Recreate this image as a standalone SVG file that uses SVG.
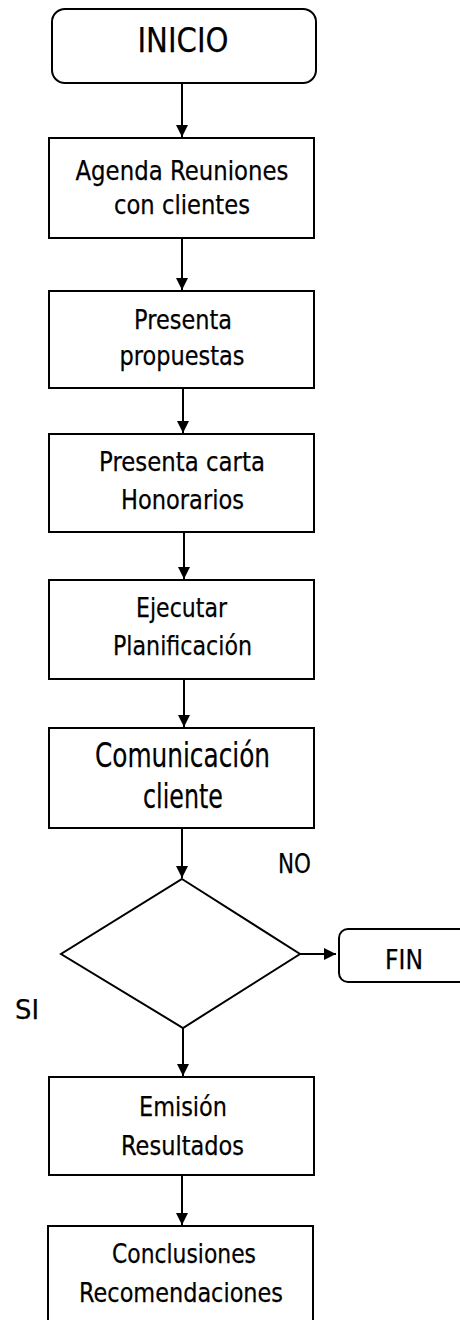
<svg xmlns="http://www.w3.org/2000/svg" width="460" height="1320" viewBox="0 0 460 1320">
<style>
.shape{fill:#fff;stroke:#000;stroke-width:2}
.line{fill:none;stroke:#000;stroke-width:2}
text{font-family:"DejaVu Sans","Liberation Sans",sans-serif;fill:#000;text-anchor:middle;stroke:#000;stroke-width:0.25}
.t{font-size:27px}
.big{font-size:33px}
</style>
<defs>
<marker id="arr" markerWidth="14" markerHeight="14" refX="12" refY="6" orient="auto" markerUnits="userSpaceOnUse">
<path d="M0,0 L12,6 L0,12 Z" fill="#000"/>
</marker>
</defs>
<rect width="460" height="1320" fill="#fff"/>
<g id="connectors">
<line class="line" x1="182" y1="84" x2="182" y2="137" marker-end="url(#arr)"/>
<line class="line" x1="182" y1="238" x2="182" y2="290" marker-end="url(#arr)"/>
<line class="line" x1="183" y1="388" x2="183" y2="433" marker-end="url(#arr)"/>
<line class="line" x1="184" y1="532" x2="184" y2="579" marker-end="url(#arr)"/>
<line class="line" x1="184" y1="679" x2="184" y2="727" marker-end="url(#arr)"/>
<line class="line" x1="182" y1="828" x2="182" y2="878" marker-end="url(#arr)"/>
<line class="line" x1="300" y1="954" x2="336" y2="954" marker-end="url(#arr)"/>
<line class="line" x1="183" y1="1028" x2="183" y2="1076" marker-end="url(#arr)"/>
<line class="line" x1="182" y1="1175" x2="182" y2="1225" marker-end="url(#arr)"/>
</g>
<g id="inicio">
<rect class="shape" x="52" y="9" width="264" height="74" rx="13"/>
<text class="big" x="183" y="52" textLength="91" lengthAdjust="spacingAndGlyphs">INICIO</text>
</g>
<g id="agenda">
<rect class="shape" x="49" y="138" width="265" height="100"/>
<text class="t" x="182" y="180" textLength="213" lengthAdjust="spacingAndGlyphs">Agenda Reuniones</text>
<text class="t" x="182" y="214" textLength="136" lengthAdjust="spacingAndGlyphs">con clientes</text>
</g>
<g id="propuestas">
<rect class="shape" x="49" y="291" width="265" height="97"/>
<text class="t" x="183" y="329" textLength="98" lengthAdjust="spacingAndGlyphs">Presenta</text>
<text class="t" x="182" y="365" textLength="125" lengthAdjust="spacingAndGlyphs">propuestas</text>
</g>
<g id="honorarios">
<rect class="shape" x="49" y="434" width="265" height="98"/>
<text class="t" x="182" y="471" textLength="166" lengthAdjust="spacingAndGlyphs">Presenta carta</text>
<text class="t" x="182.5" y="509" textLength="123" lengthAdjust="spacingAndGlyphs">Honorarios</text>
</g>
<g id="planificacion">
<rect class="shape" x="49" y="580" width="265" height="99"/>
<text class="t" x="181.5" y="617" textLength="91" lengthAdjust="spacingAndGlyphs">Ejecutar</text>
<text class="t" x="182.5" y="655" textLength="139" lengthAdjust="spacingAndGlyphs">Planificación</text>
</g>
<g id="comunicacion">
<rect class="shape" x="49" y="728" width="265" height="100"/>
<text class="big" x="182.5" y="767" textLength="175" lengthAdjust="spacingAndGlyphs">Comunicación</text>
<text class="big" x="183" y="808" textLength="80" lengthAdjust="spacingAndGlyphs">cliente</text>
</g>
<g id="decision">
<polygon class="shape" points="182,879 300,954 183,1028 61,954"/>
</g>
<g id="fin">
<rect class="shape" x="339" y="929" width="140" height="53" rx="9"/>
<text class="t" x="404" y="969" textLength="38" lengthAdjust="spacingAndGlyphs">FIN</text>
</g>
<g id="labels">
<text class="t" x="294.5" y="873" textLength="33" lengthAdjust="spacingAndGlyphs">NO</text>
<text class="t" x="27" y="1019" textLength="24" lengthAdjust="spacingAndGlyphs">SI</text>
</g>
<g id="emision">
<rect class="shape" x="49" y="1077" width="265" height="98"/>
<text class="t" x="183" y="1116" textLength="88" lengthAdjust="spacingAndGlyphs">Emisión</text>
<text class="t" x="182.5" y="1155" textLength="123" lengthAdjust="spacingAndGlyphs">Resultados</text>
</g>
<g id="conclusiones">
<rect class="shape" x="48" y="1226" width="265" height="110"/>
<text class="t" x="184" y="1263" textLength="144" lengthAdjust="spacingAndGlyphs">Conclusiones</text>
<text class="t" x="181" y="1302" textLength="204" lengthAdjust="spacingAndGlyphs">Recomendaciones</text>
</g>
</svg>
